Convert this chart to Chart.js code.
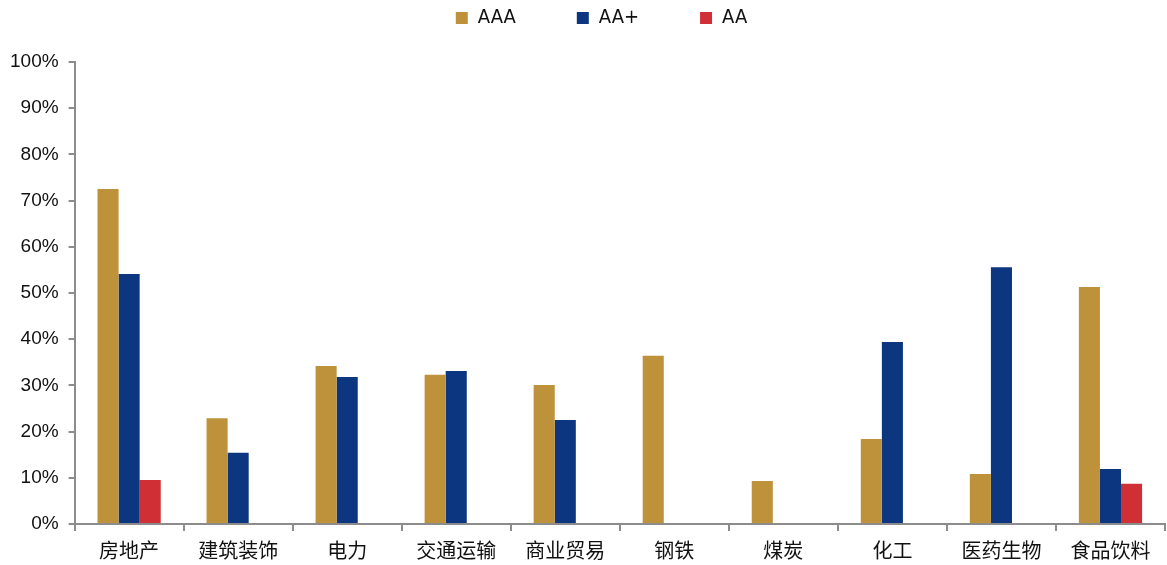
<!DOCTYPE html>
<html>
<head>
<meta charset="utf-8">
<script src="https://cdn.jsdelivr.net/npm/chart.js@4"></script>
<style>
  html, body { margin: 0; padding: 0; background: #fff; }
  #wrap { width: 1167px; height: 565px; position: relative; }
</style>
</head>
<body>
<div id="wrap"><canvas id="c"></canvas></div>
<script>
// industry share by rating
const categories = ['房地产', '建筑装饰', '电力', '交通运输', '商业贸易', '钢铁', '煤炭', '化工', '医药生物', '食品饮料'];
const aaa = [72.5, 22.9, 34.2, 32.3, 30.1, 36.4, 9.3, 18.4, 10.8, 51.3];
const aaPlus = [54.1, 15.4, 31.8, 33.1, 22.5, null, null, 39.4, 55.6, 11.9];
const aa = [9.5, null, null, null, null, null, null, null, null, 8.7];
const yTicks = [0, 10, 20, 30, 40, 50, 60, 70, 80, 90, 100];

const colors = {
    aaa: '#BE913B',
    aaPlus: '#0D3680',
    aa: '#D03035',
    axis: '#8C8C8C',
    text: '#111111'
};

// keep wide gaps between legend items without the same gap above/below
const legendSpacing = {
    id: 'legendSpacing',
    beforeLayout(chart) {
        const lg = chart.legend;
        if (!lg || lg._patched) return;
        lg._patched = true;
        const fit = lg.fit.bind(lg);
        lg.fit = function () { fit(); this.height = 40; };
        const draw = lg.draw.bind(lg);
        lg.draw = function () {
            const t = this.top, l = this.left, r = this.right;
            this.top = t - 75;
            this.left = l + 19;
            this.right = r + 19;
            draw();
            this.top = t; this.left = l; this.right = r;
        };
    }
};

new Chart(document.getElementById('c'), {
    type: 'bar',
    data: {
        labels: categories,
        datasets: [
            { label: 'AAA', data: aaa, backgroundColor: colors.aaa },
            { label: 'AA+', data: aaPlus, backgroundColor: colors.aaPlus },
            { label: 'AA', data: aa, backgroundColor: colors.aa }
        ]
    },
    options: {
        responsive: true,
        maintainAspectRatio: false,
        animation: false,
        datasets: {
            bar: { categoryPercentage: 0.58, barPercentage: 1.0 }
        },
        layout: { padding: { left: 0, right: 2, top: 22, bottom: -4 } },
        scales: {
            x: {
                grid: {
                    display: true,
                    drawOnChartArea: false,
                    drawTicks: true,
                    tickLength: 7,
                    color: colors.axis,
                    lineWidth: 2,
                    offset: true
                },
                border: { color: colors.axis, width: 2 },
                ticks: {
                    color: colors.text,
                    font: { family: '"Noto Sans CJK SC", sans-serif', size: 20 },
                    padding: 7,
                    maxRotation: 0
                }
            },
            y: {
                min: 0,
                max: 100,
                afterBuildTicks: (axis) => { axis.ticks = yTicks.map(v => ({ value: v })); },
                grid: {
                    display: true,
                    drawOnChartArea: false,
                    drawTicks: true,
                    tickLength: 6,
                    color: colors.axis,
                    lineWidth: 2
                },
                border: { color: colors.axis, width: 2 },
                ticks: {
                    color: colors.text,
                    font: { family: '"Liberation Sans", Arial, sans-serif', size: 19 },
                    padding: 10,
                    callback: (v) => v + '%'
                }
            }
        },
        plugins: {
            legend: {
                position: 'top',
                labels: {
                    boxWidth: 12,
                    boxHeight: 12,
                    padding: 61,
                    color: colors.text,
                    font: { family: '"DejaVu Sans Condensed", "Liberation Sans Narrow", "Liberation Sans", sans-serif', size: 20 }
                }
            },
            tooltip: { enabled: false }
        }
    },
    plugins: [legendSpacing]
});
</script>
</body>
</html>
